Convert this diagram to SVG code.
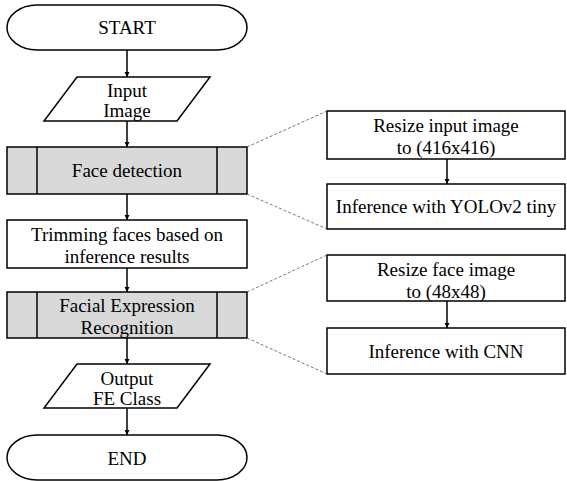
<svg xmlns="http://www.w3.org/2000/svg" width="567" height="481" viewBox="0 0 567 481">
<style>
.s{fill:#fff;stroke:#000;stroke-width:1.5}
.g{fill:#d9d9d9;stroke:#000;stroke-width:1.5}
.l{stroke:#000;stroke-width:1.5;fill:none}
text{font-size:19px;fill:#000;text-anchor:middle}
.c{stroke:#000;stroke-width:1.5;fill:none;marker-end:url(#a)}
.d{stroke:#555;stroke-width:0.8;stroke-dasharray:3 2;fill:none}
</style>
<defs>
<marker id="a" viewBox="0 0 8 8" refX="8" refY="4" markerWidth="5" markerHeight="6" markerUnits="userSpaceOnUse" orient="auto">
<path d="M0,0 L8,4 L0,8 Z" fill="#000"/>
</marker>
</defs>
<g font-family="Times New Roman, Liberation Serif, Tinos, Noto Serif, DejaVu Serif, serif">
<g id="start"><rect class="s" x="7" y="5" width="240" height="45" rx="30" ry="22.5"/><text x="127" y="34">START</text></g>
<g id="input"><path class="s" d="M77,77 L210,77 L177,121 L44,121 Z"/><text x="127" y="97">Input</text><text x="127" y="117">Image</text></g>
<g id="facedet"><rect class="g" x="7" y="147" width="240" height="47"/><line class="l" x1="37" y1="147" x2="37" y2="194"/><line class="l" x1="217" y1="147" x2="217" y2="194"/><text x="127" y="177">Face detection</text></g>
<g id="trim"><rect class="s" x="7" y="220" width="240" height="48"/><text x="127" y="241">Trimming faces based on</text><text x="127" y="263">inference results</text></g>
<g id="fer"><rect class="g" x="7" y="292" width="240" height="46"/><line class="l" x1="37" y1="292" x2="37" y2="338"/><line class="l" x1="217" y1="292" x2="217" y2="338"/><text x="127" y="312">Facial Expression</text><text x="127" y="334">Recognition</text></g>
<g id="output"><path class="s" d="M77,364 L210,364 L177,408 L44,408 Z"/><text x="127" y="385">Output</text><text x="127" y="405">FE Class</text></g>
<g id="end"><rect class="s" x="7" y="435" width="240" height="45" rx="30" ry="22.5"/><text x="127" y="465">END</text></g>
<g id="resize1"><rect class="s" x="327" y="111" width="238" height="48"/><text x="446" y="132">Resize input image</text><text x="446" y="154">to (416x416)</text></g>
<g id="yolo"><rect class="s" x="327" y="184" width="238" height="45"/><text x="446" y="213">Inference with YOLOv2 tiny</text></g>
<g id="resize2"><rect class="s" x="327" y="255" width="238" height="46"/><text x="446" y="276">Resize face image</text><text x="446" y="298">to (48x48)</text></g>
<g id="cnn"><rect class="s" x="327" y="328" width="238" height="46"/><text x="446" y="358">Inference with CNN</text></g>
</g>
<g id="connectors">
<line class="c" x1="127" y1="50" x2="127" y2="77"/>
<line class="c" x1="127" y1="121" x2="127" y2="147"/>
<line class="c" x1="127" y1="194" x2="127" y2="220"/>
<line class="c" x1="127" y1="268" x2="127" y2="292"/>
<line class="c" x1="127" y1="338" x2="127" y2="364"/>
<line class="c" x1="127" y1="408" x2="127" y2="435"/>
<line class="c" x1="447" y1="159" x2="447" y2="184"/>
<line class="c" x1="447" y1="301" x2="447" y2="328"/>
<line class="d" x1="247" y1="147" x2="327" y2="111"/>
<line class="d" x1="247" y1="194" x2="327" y2="229"/>
<line class="d" x1="247" y1="292" x2="327" y2="255"/>
<line class="d" x1="247" y1="338" x2="327" y2="374"/>
</g>
</svg>
